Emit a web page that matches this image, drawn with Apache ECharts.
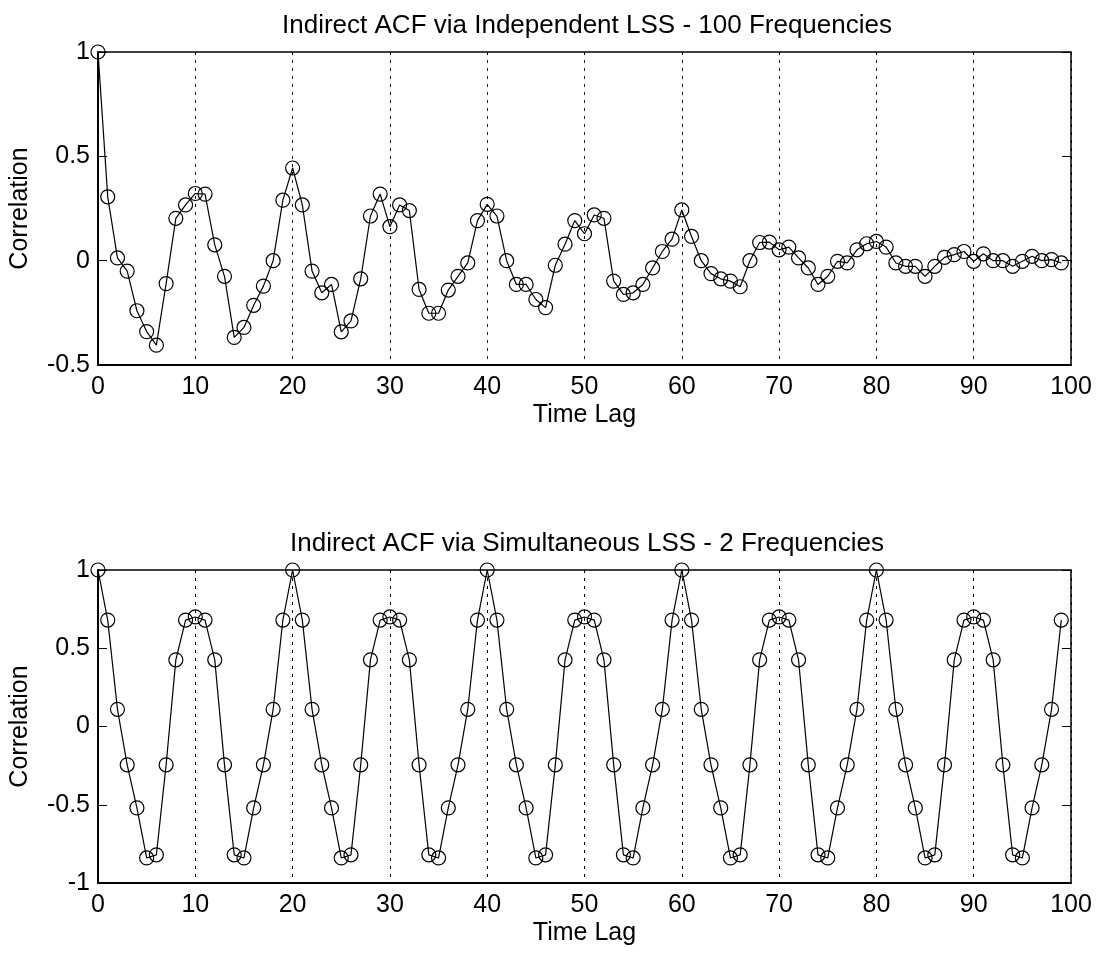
<!DOCTYPE html>
<html>
<head>
<meta charset="utf-8">
<script src="https://cdn.jsdelivr.net/npm/echarts@6/dist/echarts.min.js"></script>
<style>
  html, body { margin: 0; padding: 0; background: #fff; }
  #chart { width: 1099px; height: 953px; }
</style>
</head>
<body>
<div id="chart"></div>
<script>
// top panel: independent LSS, 100 frequencies (lags 0..99)
const acfIndependent = [
  1.0, 0.306, 0.013, -0.05, -0.24, -0.34, -0.405, -0.11, 0.203, 0.267,
  0.322, 0.319, 0.076, -0.075, -0.368, -0.32, -0.214, -0.122, 0.0, 0.29,
  0.444, 0.267, -0.05, -0.154, -0.114, -0.341, -0.289, -0.087, 0.214, 0.319,
  0.163, 0.267, 0.24, -0.138, -0.252, -0.252, -0.141, -0.075, -0.011, 0.192,
  0.27, 0.214, 0.0, -0.114, -0.114, -0.186, -0.225, -0.022, 0.079, 0.192,
  0.129, 0.219, 0.203, -0.098, -0.162, -0.154, -0.114, -0.035, 0.044, 0.103,
  0.243, 0.116, 0.0, -0.062, -0.087, -0.098, -0.125, 0.0, 0.087, 0.089,
  0.052, 0.065, 0.013, -0.035, -0.114, -0.075, -0.003, -0.011, 0.052, 0.081,
  0.092, 0.065, -0.011, -0.027, -0.027, -0.075, -0.027, 0.016, 0.029, 0.044,
  -0.003, 0.033, 0.0, 0.0, -0.027, -0.003, 0.021, 0.0, 0.005, -0.011
];
// bottom panel: simultaneous LSS, 2 frequencies
const acfSimultaneous = [
  1.0, 0.68, 0.11, -0.245, -0.52, -0.84, -0.82, -0.245, 0.426, 0.68,
  0.70, 0.68, 0.426, -0.245, -0.82, -0.84, -0.52, -0.245, 0.11, 0.68,
  1.0, 0.68, 0.11, -0.245, -0.52, -0.84, -0.82, -0.245, 0.426, 0.68,
  0.70, 0.68, 0.426, -0.245, -0.82, -0.84, -0.52, -0.245, 0.11, 0.68,
  1.0, 0.68, 0.11, -0.245, -0.52, -0.84, -0.82, -0.245, 0.426, 0.68,
  0.70, 0.68, 0.426, -0.245, -0.82, -0.84, -0.52, -0.245, 0.11, 0.68,
  1.0, 0.68, 0.11, -0.245, -0.52, -0.84, -0.82, -0.245, 0.426, 0.68,
  0.70, 0.68, 0.426, -0.245, -0.82, -0.84, -0.52, -0.245, 0.11, 0.68,
  1.0, 0.68, 0.11, -0.245, -0.52, -0.84, -0.82, -0.245, 0.426, 0.68,
  0.70, 0.68, 0.426, -0.245, -0.82, -0.84, -0.52, -0.245, 0.11, 0.68
];
const titles = [
  'Indirect ACF via Independent LSS - 100 Frequencies',
  'Indirect ACF via Simultaneous LSS - 2 Frequencies'
];
const yRanges = [[-0.5, 1], [-1, 1]];

const FONT = 'Liberation Sans, Arial, sans-serif';
const txt = { color: '#000', fontFamily: FONT, fontSize: 25 };

const grids = [
  { left: 98, top: 52, width: 973, height: 313 },
  { left: 98, top: 570, width: 973, height: 313 }
];

function toPoints(arr) {
  return arr.map((v, i) => [i, v]);
}

const xAxes = [], yAxes = [], series = [];
[0, 1].forEach(g => {
  // bottom x axis with dotted grid lines
  xAxes.push({
    gridIndex: g, type: 'value', min: 0, max: 100, interval: 10,
    name: 'Time Lag', nameLocation: 'middle', nameGap: 38, nameTextStyle: txt,
    axisLine: { show: true, onZero: false, lineStyle: { color: '#000', width: 2 } },
    axisTick: { show: false },
    axisLabel: Object.assign({ margin: 10 }, txt),
    splitLine: { show: true, lineStyle: { color: '#000', width: 1, type: [3, 5] } }
  });
  // top frame
  xAxes.push({
    gridIndex: g, type: 'value', min: 0, max: 100, position: 'top',
    axisLine: { show: true, onZero: false, lineStyle: { color: '#000', width: 1.5 } },
    axisTick: { show: false }, axisLabel: { show: false }, splitLine: { show: false }
  });
  yAxes.push({
    gridIndex: g, type: 'value', min: yRanges[g][0], max: yRanges[g][1], interval: 0.5,
    name: 'Correlation', nameLocation: 'middle', nameGap: 65, nameTextStyle: txt,
    axisLine: { show: true, onZero: false, lineStyle: { color: '#000', width: 2 } },
    axisTick: { show: true, inside: true, length: 9, lineStyle: { color: '#000' } },
    axisLabel: Object.assign({ margin: 8, formatter: v => String(v) }, txt),
    splitLine: { show: false }
  });
  // right frame with inward ticks
  yAxes.push({
    gridIndex: g, type: 'value', min: yRanges[g][0], max: yRanges[g][1], interval: 0.5,
    position: 'right',
    axisLine: { show: true, onZero: false, lineStyle: { color: '#000', width: 1.5 } },
    axisTick: { show: true, inside: true, length: 9, lineStyle: { color: '#000' } },
    axisLabel: { show: false }, splitLine: { show: false }
  });
  series.push({
    type: 'line',
    xAxisIndex: g * 2, yAxisIndex: g * 2,
    data: toPoints(g === 0 ? acfIndependent : acfSimultaneous),
    clip: false,
    symbol: 'circle', symbolSize: 14,
    lineStyle: { color: '#000', width: 1.2 },
    itemStyle: { color: 'rgba(0,0,0,0)', borderColor: '#000', borderWidth: 1.2 }
  });
});

const titleStyle = Object.assign({}, txt, { fontSize: 26, fontWeight: 'normal' });

const chart = echarts.init(document.getElementById('chart'), null, { renderer: 'canvas' });
chart.setOption({
  animation: false,
  backgroundColor: '#fff',
  title: [
    { text: titles[0], left: 582, top: 8, textAlign: 'center', textStyle: titleStyle },
    { text: titles[1], left: 582, top: 526, textAlign: 'center', textStyle: titleStyle }
  ],
  grid: grids,
  xAxis: xAxes,
  yAxis: yAxes,
  series: series
});
</script>
</body>
</html>
